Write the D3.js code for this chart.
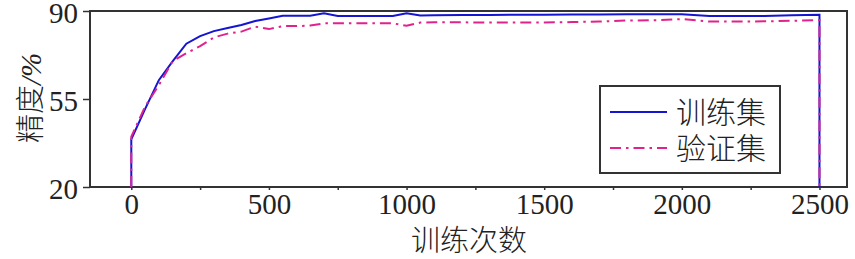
<!DOCTYPE html>
<html>
<head>
<meta charset="utf-8">
<script src="https://cdn.jsdelivr.net/npm/d3@7"></script>
</head>
<body style="margin:0">
<svg width="855" height="259"></svg>
<script>
const width = 855;
const height = 259;
const margin = { top: 11, right: 8, bottom: 72, left: 90 };

// iteration count (first/last repeated: curves drop to the axis at both ends)
const iters = [0, 0, 50, 100, 150, 200, 250, 300, 350, 400, 450, 500, 550, 600, 650, 700, 750, 800, 850, 900, 950,
  1000, 1050, 1100, 1200, 1300, 1400, 1500, 1600, 1700, 1800, 1900, 2000, 2100, 2200, 2300, 2400, 2500, 2500];
const trainAcc = [20, 39, 51, 62.5, 70, 77, 80, 82, 83.2, 84.4, 86, 87, 88.1, 88.1, 88.1, 89.1, 88, 88, 88, 88, 88,
  89.1, 88.2, 88.3, 88.4, 88.4, 88.5, 88.5, 88.6, 88.6, 88.7, 88.7, 88.7, 88, 88, 88, 88.3, 88.5, 20];
const validAcc = [20, 40, 52, 60.5, 70, 73.2, 76, 79.5, 81, 81.8, 83.8, 82.8, 84, 84, 84.2, 85.1, 85.1, 85.1, 85.1, 85.1, 85.1,
  84.1, 85.4, 85.5, 85.5, 85.4, 85.4, 85.4, 85.6, 85.8, 86.2, 86.3, 86.8, 85.8, 85.8, 85.9, 86.1, 86.4, 20];

const xTicks = [0, 250, 500, 750, 1000, 1250, 1500, 1750, 2000, 2250, 2500];
const yTicks = [20, 55, 90];
const seriesNames = ["训练集", "验证集"];
const seriesColors = ["#1414d2", "#e0228c"];

const innerW = width - margin.left - margin.right;
const innerH = height - margin.top - margin.bottom;

const numFont = "Liberation Serif";
const cjkFont = "Noto Sans CJK SC";

const svg = d3.select("svg")
  .append("g")
  .attr("transform", "translate(" + margin.left + "," + margin.top + ")");

const x = d3.scaleLinear().domain([-150, 2600]).range([0, innerW]);
const y = d3.scaleLinear().domain([20, 90]).range([innerH, 0]);

// x axis
const xAxis = svg.append("g")
  .attr("transform", "translate(0," + innerH + ")")
  .call(d3.axisBottom(x).tickValues(xTicks).tickSize(3)
    .tickFormat(d => d % 500 === 0 ? d : ""))
  .attr("font-family", numFont)
  .attr("font-size", 29);
xAxis.select(".domain").remove();
xAxis.selectAll("line").attr("stroke", "#333").attr("stroke-width", 1.5);
xAxis.selectAll("text")
  .attr("dy", null).attr("y", 27)
  .attr("font-family", numFont)
  .attr("fill", "#222");

// y axis
const yAxis = svg.append("g")
  .call(d3.axisLeft(y).tickValues(yTicks).tickSize(7).tickPadding(5))
  .attr("font-family", numFont)
  .attr("font-size", 29);
yAxis.select(".domain").remove();
yAxis.selectAll("line").attr("stroke", "#333").attr("stroke-width", 1.5);
yAxis.selectAll("text")
  .attr("dy", "0.38em")
  .attr("font-family", numFont)
  .attr("fill", "#222");

// frame
svg.append("rect")
  .attr("width", innerW).attr("height", innerH)
  .attr("fill", "none").attr("stroke", "#333").attr("stroke-width", 2);

const line = d3.line()
  .x((d, i) => x(iters[i]))
  .y(d => y(d));

svg.append("path")
  .datum(trainAcc)
  .attr("fill", "none")
  .attr("stroke", seriesColors[0])
  .attr("stroke-width", 2)
  .attr("d", line);

svg.append("path")
  .datum(validAcc)
  .attr("fill", "none")
  .attr("stroke", seriesColors[1])
  .attr("stroke-width", 2)
  .attr("stroke-dasharray", "11,5,2.5,5")
  .attr("d", line);

// legend
const legend = svg.append("g").attr("transform", "translate(" + (600 - margin.left) + "," + (86 - margin.top) + ")");
legend.append("rect")
  .attr("width", 180).attr("height", 87)
  .attr("fill", "#fff").attr("stroke", "#333").attr("stroke-width", 2);
seriesNames.forEach((name, i) => {
  const ly = 26 + i * 36;
  legend.append("line")
    .attr("x1", 10).attr("x2", 67).attr("y1", ly).attr("y2", ly)
    .attr("stroke", seriesColors[i]).attr("stroke-width", 2)
    .attr("stroke-dasharray", i === 1 ? "11,5,2.5,5" : null);
  legend.append("text")
    .attr("x", 76).attr("y", ly + 11)
    .attr("font-family", cjkFont).attr("font-weight", 300)
    .attr("font-size", 30).attr("fill", "#222")
    .text(name);
});

// axis titles
svg.append("text")
  .attr("x", 469 - margin.left).attr("y", 251 - margin.top)
  .attr("text-anchor", "middle")
  .attr("font-family", cjkFont).attr("font-weight", 300)
  .attr("font-size", 29).attr("fill", "#222")
  .text("训练次数");

const yTitle = svg.append("text")
  .attr("transform", "translate(" + (41 - margin.left) + "," + (98 - margin.top) + ") rotate(-90)")
  .attr("text-anchor", "middle")
  .attr("font-size", 29).attr("fill", "#222");
yTitle.append("tspan").attr("font-family", cjkFont).attr("font-weight", 300).text("精度");
yTitle.append("tspan").attr("font-family", numFont).attr("font-style", "italic").text("/%");
</script>
</body>
</html>
